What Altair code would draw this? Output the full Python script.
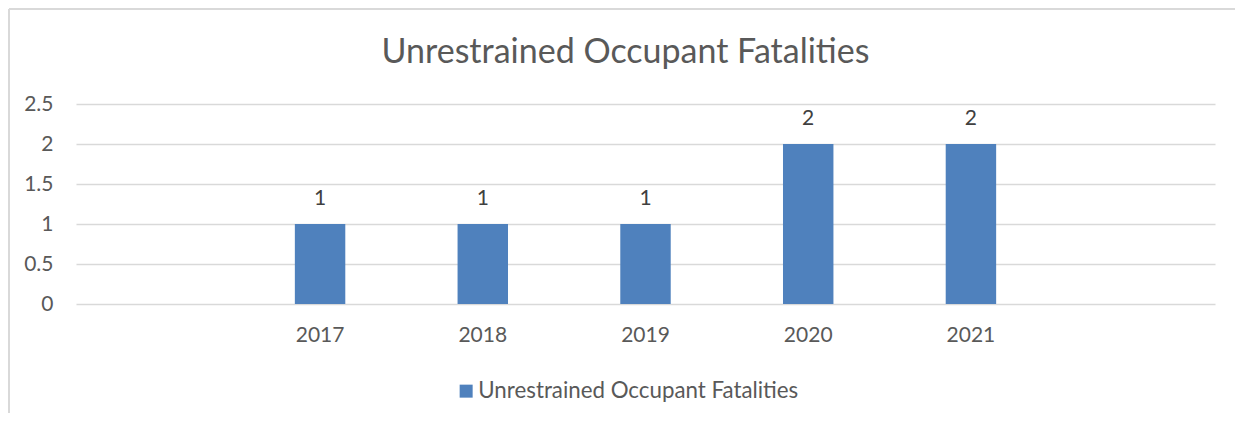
import altair as alt
import pandas as pd

# ---- data ----
categories = ["_pre", "2017", "2018", "2019", "2020", "2021", "_post"]
years = ["2017", "2018", "2019", "2020", "2021"]
fatalities = [1, 1, 1, 2, 2]
series_name = "Unrestrained Occupant Fatalities"
y_ticks = [0, 0.5, 1, 1.5, 2, 2.5]

df = pd.DataFrame({"year": years, "value": fatalities, "series": [series_name] * len(years)})

FONT = "Lato"
TXT = "#595959"
GRID = "#d9d9d9"
BAR = "#4f81bd"

x_enc = alt.X(
    "year:N",
    scale=alt.Scale(domain=categories, paddingInner=0.69, paddingOuter=0.345),
    axis=alt.Axis(
        title=None, labelAngle=0, ticks=False, tickSize=0, domain=False, grid=False,
        labelFont=FONT, labelFontSize=21, labelColor=TXT, labelPadding=37,
        labelBaseline="alphabetic",
        labelExpr="indexof(datum.label, '_') == 0 ? '' : datum.label",
    ),
)
y_enc = alt.Y(
    "value:Q",
    scale=alt.Scale(domain=[0, 2.5], nice=False),
    axis=alt.Axis(
        title=None, values=y_ticks, ticks=False, tickSize=0, domain=False,
        grid=True, gridColor=GRID, gridWidth=1.4,
        labelFont=FONT, labelFontSize=21, labelColor=TXT, labelPadding=23,
        labelBaseline="middle", format="~g",
    ),
)

bars = alt.Chart(df).mark_bar(color=BAR).encode(
    x=x_enc,
    y=y_enc,
    color=alt.Color(
        "series:N",
        scale=alt.Scale(domain=[series_name], range=[BAR]),
        legend=alt.Legend(
            title=None, orient="none", legendX=379, legendY=276,
            symbolType="square", symbolSize=169, symbolStrokeWidth=0,
            labelFont=FONT, labelFontSize=22.3, labelColor=TXT, labelOffset=1,
            labelLimit=0, padding=0,
        ),
    ),
)

labels = alt.Chart(df).mark_text(
    font=FONT, fontSize=21, color="#404040", baseline="alphabetic", dy=-19
).encode(x=x_enc, y=y_enc, text=alt.Text("value:Q"))

border_top = alt.Chart(df).mark_rule(color=GRID, strokeWidth=2).encode(
    x=alt.value(-67), x2=alt.value(1160), y=alt.value(-95)
)
border_left = alt.Chart(df).mark_rule(color=GRID, strokeWidth=2).encode(
    x=alt.value(-67), y=alt.value(-95), y2=alt.value(309)
)

chart = (
    alt.layer(border_top, border_left, bars, labels)
    .properties(
        width=1139,
        height=200,
        title=alt.TitleParams(
            "Unrestrained Occupant Fatalities",
            font=FONT, fontSize=34, fontWeight="normal", color=TXT,
            anchor="middle", dx=-20, offset=0, baseline="alphabetic", dy=89,
        ),
        autosize=alt.AutoSizeParams(type="none"),
        padding={"left": 68, "top": 96, "right": 20, "bottom": 109},
    )
    .configure(background="white")
    .configure_view(strokeWidth=0, stroke="transparent")
)

chart.save("out.html", embed_options={"renderer": "svg", "actions": False})
